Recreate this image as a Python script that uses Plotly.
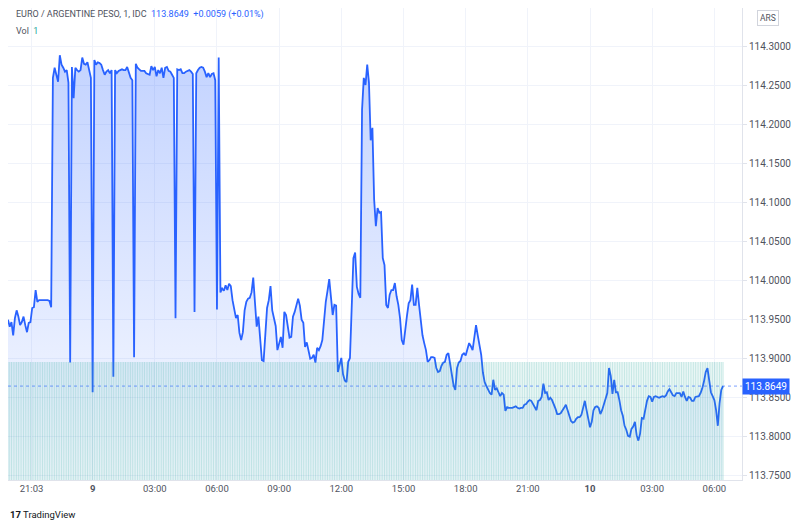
import pandas as pd
import plotly.graph_objects as go

# EUR/ARS, IDC feed at roughly 5-minute spacing
start = "2021-06-08 19:55"
step = "5min"
prices = [
    113.950, 113.941, 113.947, 113.930, 113.952, 113.962, 113.954, 113.943, 113.947, 113.954,
    113.943, 113.934, 113.946, 113.947, 113.965, 113.966, 113.988, 113.973, 113.975, 113.975,
    113.975, 113.975, 113.975, 113.975, 113.974, 113.966, 114.260, 114.273, 114.264, 114.255,
    114.289, 114.277, 114.273, 114.268, 114.270, 114.254, 113.895, 114.274, 114.234, 114.273,
    114.270, 114.268, 114.270, 114.286, 114.278, 114.277, 114.280, 114.270, 114.260, 113.857,
    114.283, 114.277, 114.280, 114.279, 114.277, 114.270, 114.264, 114.268, 114.270, 114.266,
    114.270, 113.877, 114.270, 114.266, 114.269, 114.270, 114.271, 114.270, 114.270, 114.274,
    114.268, 114.260, 114.257, 113.902, 114.278, 114.273, 114.271, 114.269, 114.269, 114.269,
    114.266, 114.265, 114.264, 114.275, 114.270, 114.274, 114.262, 114.270, 114.266, 114.273,
    114.260, 114.273, 114.274, 114.269, 114.268, 114.264, 114.260, 113.952, 114.271, 114.270,
    114.271, 114.266, 114.266, 114.268, 114.269, 114.270, 114.268, 114.265, 113.960, 114.266,
    114.270, 114.273, 114.274, 114.273, 114.268, 114.261, 114.266, 114.261, 114.265, 114.266,
    114.257, 113.963, 114.286, 113.985, 113.990, 113.987, 113.994, 113.988, 113.996, 113.993,
    113.975, 113.961, 113.952, 113.956, 113.933, 113.924, 113.934, 113.962, 113.973, 113.977,
    113.978, 113.985, 114.004, 113.972, 113.941, 113.954, 113.921, 113.898, 113.897, 113.931,
    113.965, 113.975, 113.993, 113.962, 113.950, 113.942, 113.911, 113.920, 113.928, 113.914,
    113.960, 113.956, 113.939, 113.927, 113.928, 113.954, 113.960, 113.970, 113.977, 113.968,
    113.950, 113.946, 113.915, 113.921, 113.912, 113.900, 113.901, 113.905, 113.895, 113.914,
    113.911, 113.916, 113.924, 113.952, 113.973, 113.987, 114.002, 113.979, 113.956, 113.969,
    113.968, 113.883, 113.891, 113.901, 113.880, 113.872, 113.870, 113.896, 113.901, 113.972,
    114.029, 114.036, 113.992, 113.983, 113.978, 114.219, 114.260, 114.251, 114.277, 114.254,
    114.180, 114.196, 114.104, 114.070, 114.093, 114.087, 114.088, 114.029, 114.020, 113.969,
    113.965, 113.982, 113.988, 113.988, 113.997, 113.980, 113.969, 113.952, 113.924, 113.918,
    113.941, 113.955, 113.971, 113.975, 113.995, 113.969, 113.969, 113.991, 113.969, 113.950,
    113.930, 113.920, 113.911, 113.896, 113.898, 113.902, 113.902, 113.901, 113.888, 113.883,
    113.884, 113.891, 113.895, 113.896, 113.905, 113.907, 113.893, 113.881, 113.866, 113.860,
    113.888, 113.895, 113.897, 113.905, 113.907, 113.904, 113.911, 113.920, 113.916, 113.911,
    113.927, 113.943, 113.930, 113.918, 113.905, 113.882, 113.870, 113.865, 113.860, 113.856,
    113.854, 113.873, 113.860, 113.862, 113.857, 113.852, 113.856, 113.854, 113.833, 113.838,
    113.837, 113.837, 113.837, 113.838, 113.839, 113.837, 113.836, 113.837, 113.837, 113.841,
    113.842, 113.845, 113.847, 113.846, 113.842, 113.837, 113.834, 113.846, 113.847, 113.851,
    113.868, 113.856, 113.857, 113.847, 113.850, 113.847, 113.842, 113.836, 113.829, 113.829,
    113.830, 113.833, 113.837, 113.841, 113.834, 113.825, 113.820, 113.818, 113.819, 113.823,
    113.825, 113.825, 113.828, 113.837, 113.846, 113.834, 113.821, 113.812, 113.819, 113.834,
    113.838, 113.839, 113.837, 113.829, 113.834, 113.841, 113.846, 113.856, 113.888, 113.878,
    113.855, 113.873, 113.857, 113.857, 113.847, 113.834, 113.827, 113.814, 113.809, 113.801,
    113.800, 113.810, 113.813, 113.819, 113.802, 113.795, 113.804, 113.824, 113.823, 113.834,
    113.846, 113.852, 113.851, 113.845, 113.851, 113.852, 113.851, 113.850, 113.851, 113.852,
    113.851, 113.853, 113.858, 113.861, 113.857, 113.853, 113.852, 113.856, 113.856, 113.856,
    113.851, 113.858, 113.851, 113.846, 113.851, 113.850, 113.846, 113.846, 113.851, 113.852,
    113.852, 113.856, 113.862, 113.871, 113.883, 113.888, 113.875, 113.857, 113.852, 113.847,
    113.834, 113.814, 113.843, 113.860, 113.8649,
]
# every bar in the volume pane reads 1
volume = [1] * len(prices)

price_ticks = [113.75, 113.80, 113.85, 113.90, 113.95, 114.00,
               114.05, 114.10, 114.15, 114.20, 114.25, 114.30]
time_ticks = ["2021-06-08 21:03", "2021-06-09 00:00", "2021-06-09 03:00", "2021-06-09 06:00",
              "2021-06-09 09:00", "2021-06-09 12:00", "2021-06-09 15:00", "2021-06-09 18:00",
              "2021-06-09 21:00", "2021-06-10 00:00", "2021-06-10 03:00", "2021-06-10 06:00"]
time_labels = ["21:03", "<b>9</b>", "03:00", "06:00", "09:00", "12:00",
               "15:00", "18:00", "21:00", "<b>10</b>", "03:00", "06:00"]

last = prices[-1]
change = 0.0059

BLUE = "#2962ff"
TEXT = "#50535e"
GRID = "#f0f3fa"
FONT = "Roboto"

# the page body has an 8px margin, so the figure is drawn 8px smaller
W, H = 792, 519
PW, PH = 734, 472  # plot area in px


def px(x):
    return (x - 8) / PW


def py(y):
    return 1 - (y - 8) / PH


times = pd.date_range(start, periods=len(prices), freq=step)
y_lo, y_hi = 113.7445, 114.3496

fig = go.Figure()
# gradient area under the price line
fig.add_trace(go.Scatter(
    x=times, y=prices, mode="lines", line=dict(width=0),
    fill="tozeroy",
    fillgradient=dict(type="vertical", start=y_lo, stop=114.29,
                      colorscale=[[0, "rgba(41,98,255,0.03)"], [1, "rgba(41,98,255,0.28)"]]),
    hoverinfo="skip", showlegend=False,
))
fig.add_trace(go.Bar(
    x=times, y=volume, yaxis="y2", marker=dict(color="rgba(38,166,154,0.26)", line_width=0),
    showlegend=False,
))
fig.add_trace(go.Scatter(
    x=times, y=prices, mode="lines", line=dict(color=BLUE, width=1.8),
    showlegend=False,
))

fig.add_shape(type="line", xref="paper", x0=0, x1=1, yref="y", y0=last, y1=last,
              line=dict(color=BLUE, width=1, dash="dot"), opacity=0.6)

title = (
    "EURO / ARGENTINE PESO, 1, IDC&nbsp;&nbsp;"
    f"<span style='color:{BLUE}'>{last:.4f}&nbsp;&nbsp;+{change:.4f} (+0.01%)</span>"
)
ann = []
ann.append(dict(x=px(14), y=py(15), text=title, font=dict(color=TEXT, size=9)))
ann.append(dict(x=px(14), y=py(31), text="Vol&nbsp;&nbsp;<span style='color:#26a69a'>1</span>",
                font=dict(color=TEXT, size=9)))
ann.append(dict(x=px(8), y=py(515), text="<b>17</b> TradingView",
                font=dict(color="#131722", size=9.5)))
for a in ann:
    a.update(xref="paper", yref="paper", xanchor="left", yanchor="middle", showarrow=False)
    fig.add_annotation(**a)

fig.add_annotation(xref="paper", yref="paper", x=px(767.5), y=py(18.5), text="ARS",
                   showarrow=False, font=dict(color=TEXT, size=8.5), bordercolor="#d1d4dc",
                   borderwidth=1, borderpad=2, xanchor="center", yanchor="middle")
fig.add_annotation(xref="paper", yref="y", x=1, y=last, text=f"{last:.4f}", showarrow=False,
                   xanchor="left", yanchor="middle", bgcolor=BLUE, borderpad=2,
                   font=dict(color="white", size=10))

fig.update_layout(
    width=W, height=H,
    margin=dict(l=0, r=W - PW, t=0, b=H - PH, autoexpand=False),
    paper_bgcolor="white", plot_bgcolor="white",
    font=dict(family=FONT, color=TEXT, size=10),
    bargap=0.35,
    xaxis=dict(type="date", range=["2021-06-08 19:55", "2021-06-10 07:20"],
               tickvals=time_ticks, ticktext=time_labels, automargin=False,
               showgrid=True, gridcolor=GRID, zeroline=False,
               showline=True, linecolor="#e0e3eb", ticks="", tickfont=dict(size=9.5)),
    yaxis=dict(side="right", range=[y_lo, y_hi], tickvals=price_ticks, tickformat=".4f",
               automargin=False, showgrid=True, gridcolor=GRID, zeroline=False,
               showline=True, linecolor="#e0e3eb", ticks="outside", ticklen=4,
               tickcolor="#e0e3eb"),
    yaxis2=dict(overlaying="y", range=[0, PH / 118], visible=False),
)

fig.write_html("out.html")
